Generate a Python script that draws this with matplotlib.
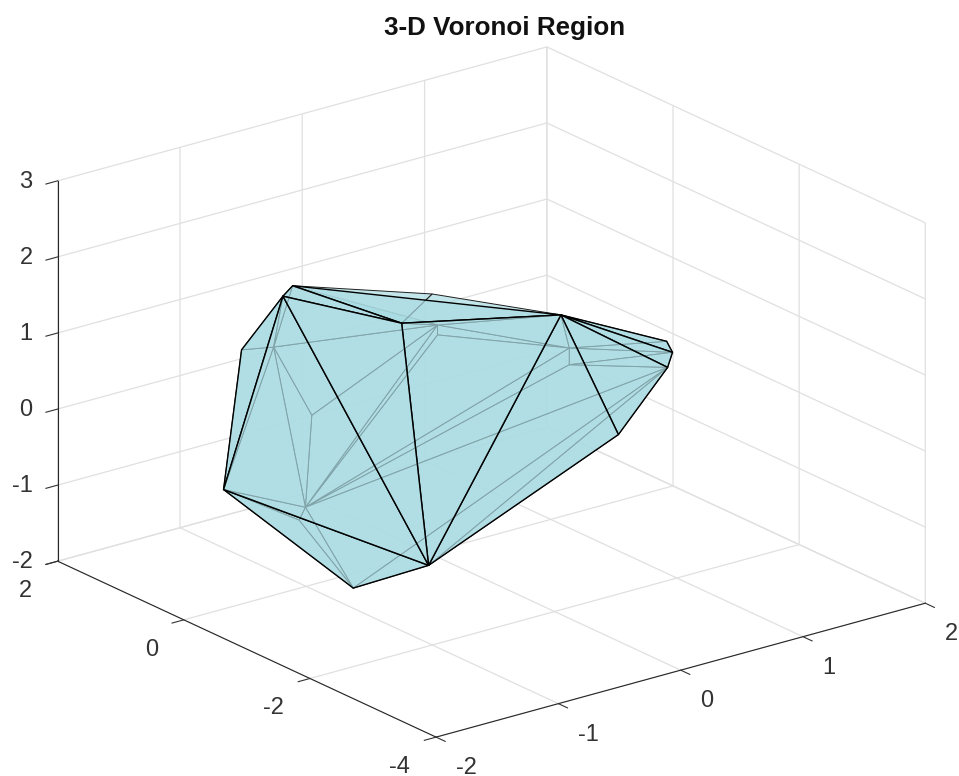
import matplotlib
matplotlib.use("Agg")
import matplotlib.pyplot as plt
from matplotlib.colors import to_rgba
from matplotlib.transforms import offset_copy
from mpl_toolkits.mplot3d.art3d import Poly3DCollection

plt.rcParams["font.family"] = ["Liberation Sans", "DejaVu Sans"]
plt.rcParams["axes.unicode_minus"] = False
plt.rcParams["grid.color"] = "#e0e0e0"
plt.rcParams["grid.linewidth"] = 0.9
plt.rcParams["axes.edgecolor"] = "#262626"
plt.rcParams["axes.linewidth"] = 0.8

x_ticks = [-2, -1, 0, 1, 2]
y_ticks = [-4, -2, 0, 2]
z_ticks = [-2, -1, 0, 1, 2, 3]

# region vertices
vertices = {
    "A": (-1.11, 0.0, 2.00),
    "B": (-1.705, -1.0, 2.51),
    "C": (-1.27, 0.5, 1.035),
    "D": (-1.675, 0.0, -0.43),
    "E": (-1.13, -1.0, -1.58),
    "F": (-1.03, -2.0, -0.94),
    "G": (-1.25, -2.0, 2.34),
    "H": (0.03, 0.0, 1.39),
    "I": (0.31, -1.5, 1.57),
    "J": (0.78, -1.5, -0.21),
    "K": (1.44, -1.0, 0.19),
    "L": (1.48, -1.0, 0.37),
    "M": (1.69, -0.5, 0.23),
    "N": (-0.75, 1.0, 0.65),
    "O": (-0.18, 1.5, -0.69),
    "P": (-0.49, 1.0, -1.57),
    "U": (-0.80, 0.5, -1.41),
    "Q": (0.59, 1.0, 0.35),
    "V": (0.59, 1.0, 0.22),
    "R": (1.41, 0.5, -0.34),
    "S": (1.41, 0.5, -0.12),
}

front_faces = ["BCD", "BDF", "DEF", "BFG", "GFI", "IFJ", "JIK", "IKL", "ILM", "ABG", "AGI"]
back_faces = ["ABN", "BCN", "CDN", "DNP", "NOP", "NOQ", "OPQ", "ANQ", "AGQ", "GIQ",
              "QIS", "IMS", "MLS", "LSR", "LKR", "QVS", "VPS", "PSR", "PRK", "PQV",
              "PKE", "EKF", "FJK", "DPU", "PUE", "DUE", "AHG", "GHI"]

face_color = to_rgba("#aadce3", 0.7)


def polys(faces):
    return [[vertices[c] for c in f] for f in faces]


fig = plt.figure(figsize=(9.59, 7.76), dpi=100)
ax = fig.add_axes([93 / 959, -14.5 / 776, 776 / 959, 1.0], projection="3d", proj_type="ortho")
ax.view_init(elev=20.9, azim=-127.5)
ax.set_box_aspect((0.992, 1, 0.655), zoom=1.208)
ax.computed_zorder = False

ax.add_collection3d(Poly3DCollection(polys(back_faces), facecolors=face_color,
                                     edgecolors="#202020", linewidths=0.7, zorder=1))
ax.add_collection3d(Poly3DCollection(polys(front_faces), facecolors=face_color,
                                     edgecolors="k", linewidths=1.0, zorder=2))

ax.set_xlim(-2, 2, view_margin=0)
ax.set_ylim(-4, 2, view_margin=0)
ax.set_zlim(-2, 3, view_margin=0)
ax.set_xticks(x_ticks)
ax.set_yticks(y_ticks)
ax.set_zticks(z_ticks)
ax.tick_params(labelsize=17, colors="#333333", width=0.8)
ax.xaxis.set_tick_params(pad=7)
ax.yaxis.set_tick_params(pad=7.5)
ax.zaxis.set_tick_params(pad=0.4)

for axis in (ax.xaxis, ax.yaxis, ax.zaxis):
    axis.set_pane_color((1, 1, 1, 0))
    axis.pane.set_edgecolor((1, 1, 1, 0))
    axis._axinfo["tick"]["inward_factor"] = 0.3
    axis._axinfo["tick"]["outward_factor"] = 0.0
ax.zaxis.set_ticks_position("upper")

plt.setp(ax.xaxis.get_ticklabels(), ha="left", va="center_baseline")
plt.setp(ax.yaxis.get_ticklabels(), ha="right", va="center_baseline")
plt.setp(ax.zaxis.get_ticklabels(), ha="right", va="center_baseline")

# nudge the labels up a little, pad only moves them along the tick direction
for axis, up in ((ax.yaxis, 3), (ax.zaxis, 4)):
    for label in axis.get_ticklabels():
        label.set_transform(offset_copy(label.get_transform(), fig=fig, y=up, units="dots"))

fig.suptitle("3-D Voronoi Region", x=505 / 959, y=1 - 28 / 776, va="center",
             fontsize=18.7, fontweight="bold", color="#111111")

fig.savefig("out.png", dpi=100)
